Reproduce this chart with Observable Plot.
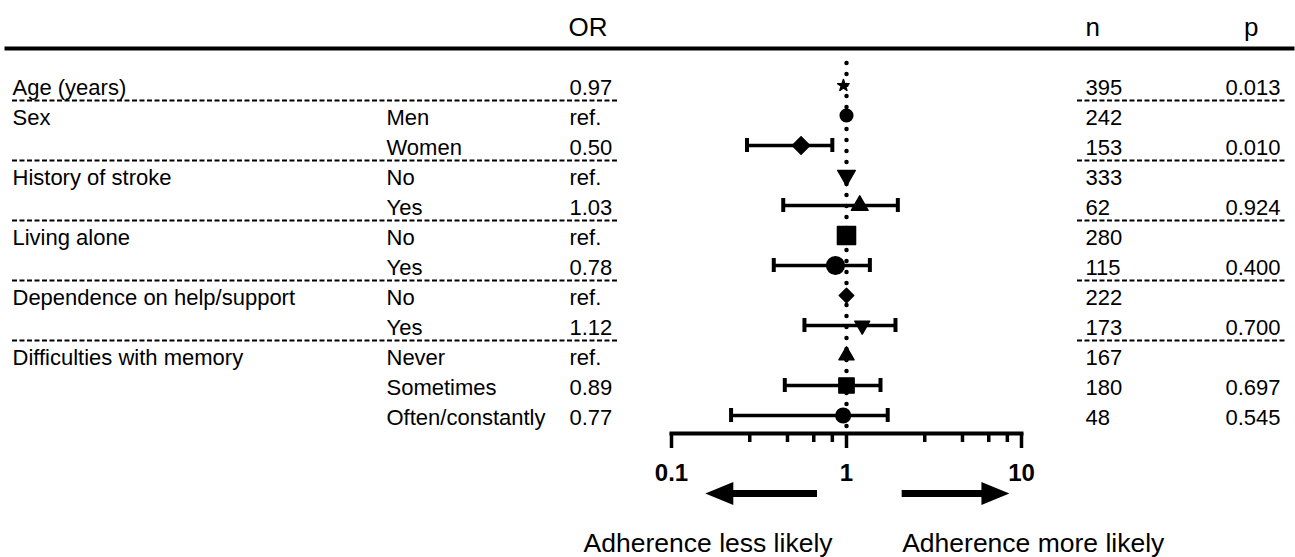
<!DOCTYPE html>
<html>
<head>
<meta charset="utf-8">
<script src="https://cdn.jsdelivr.net/npm/d3@7"></script>
<script src="https://cdn.jsdelivr.net/npm/@observablehq/plot@0.6"></script>
<style>
  html, body { margin: 0; padding: 0; background: #fff; }
  #chart { width: 1295px; height: 557px; }
</style>
</head>
<body>
<div id="chart"></div>
<script>
// ---------- data ----------
const variables = ["Age (years)", "Sex", "", "History of stroke", "", "Living alone", "",
  "Dependence on help/support", "", "Difficulties with memory", "", ""];
const levels = ["", "Men", "Women", "No", "Yes", "No", "Yes", "No", "Yes", "Never", "Sometimes", "Often/constantly"];
const orLabels = ["0.97", "ref.", "0.50", "ref.", "1.03", "ref.", "0.78", "ref.", "1.12", "ref.", "0.89", "0.77"];
const nValues = [395, 242, 153, 333, 62, 280, 115, 222, 173, 167, 180, 48];
const pValues = ["0.013", "", "0.010", "", "0.924", "", "0.400", "", "0.700", "", "0.697", "0.545"];
// plotted point estimates and 95% CI as drawn in the figure
const estimates = [0.96, 1, 0.55, 1, 1.19, 1, 0.865, 1, 1.23, 1, 1.0, 0.957];
const ciLow  = [null, null, 0.27, null, 0.435, null, 0.384, null, 0.575, null, 0.444, 0.219];
const ciHigh = [null, null, 0.83, null, 1.965, null, 1.36, null, 1.905, null, 1.564, 1.72];
const separatorAfter = [0, 2, 4, 6, 8];
const headerLabels = ["OR", "n", "p"];
const majorTicks = [0.1, 1, 10];
const minorTicks = [0.28, 0.46, 0.65, 0.83, 2.8, 4.6, 6.5, 8.3];
const arrows = [{tail: 0.683, tip: 0.156}, {tail: 2.08, tip: 8.53}];
const captionTexts = ["Adherence less likely", "Adherence more likely"];

// ---------- styles ----------
const markerSymbol = ["star", "circle", "diamond2", "triangle", "triangle", "square", "circle",
  "diamond2", "triangle", "triangle", "square", "circle"];
const markerRotate = [0, 0, 0, 180, 0, 0, 0, 0, 180, 0, 0, 0];
const markerRadius = [3.6, 6.3, 7.8, 6.5, 6.2, 10.2, 8.8, 6.5, 5.5, 5.6, 8.6, 7.3];

const rows = levels.map((lvl, i) => ({
  id: i, variable: variables[i], level: lvl, or: orLabels[i], n: String(nValues[i]),
  p: pValues[i], est: estimates[i], lo: ciLow[i], hi: ciHigh[i]
}));
const ciRows = rows.filter(d => d.lo != null);
const lastId = rows[rows.length - 1].id;

// ---------- layout ----------
const W = 1295, H = 557;
const mL = 6, mR = 3, mT = 48, mB = 124;
const frameRight = W - mR;
const xRange = [671, 1021];
const rowStep = 30;
const yRange = [85 - rowStep / 2, 85 + rowStep * (rows.length - 0.5)];

const arrowHead = {
  draw(ctx, size) {
    const r = Math.sqrt(size / Math.PI);
    ctx.moveTo(0, 0);
    ctx.lineTo(-2 * r, -0.82 * r);
    ctx.lineTo(-2 * r, 0.82 * r);
    ctx.closePath();
  }
};

const tableText = (field, opts) => Plot.text(rows, {
  y: "id", text: field, frameAnchor: "left", textAnchor: "start", dy: 2, fontSize: 22, fill: "black", ...opts
});

const chart = Plot.plot({
  width: W, height: H,
  marginTop: mT, marginBottom: mB, marginLeft: mL, marginRight: mR,
  style: {fontFamily: "'Liberation Sans', Arial, Helvetica, sans-serif", fontSize: "22px", color: "black", background: "white", overflow: "visible"},
  x: {type: "log", domain: [0.1, 10], range: xRange},
  y: {type: "band", domain: rows.map(d => d.id), range: yRange, padding: 0, axis: null},
  r: {type: "linear", domain: [0, 30], range: [0, 30]},
  marks: [
    // header line and labels
    Plot.frame({anchor: "top", strokeWidth: 4, stroke: "black"}),
    Plot.text([headerLabels[0]], {text: d => d, frameAnchor: "top-left", textAnchor: "start", lineAnchor: "bottom", dx: 562, dy: -13, fontSize: 26}),
    Plot.text([headerLabels[1]], {text: d => d, frameAnchor: "top-left", textAnchor: "start", lineAnchor: "bottom", dx: 1079, dy: -13, fontSize: 26}),
    Plot.text([headerLabels[2]], {text: d => d, frameAnchor: "top-right", textAnchor: "end", lineAnchor: "bottom", dx: -34, dy: -13, fontSize: 26}),

    // dashed group separators
    Plot.ruleY(separatorAfter, {y: d => d, dy: rowStep / 2, strokeWidth: 2, strokeDasharray: "5,2.5",
      insetLeft: 12 - mL, insetRight: frameRight - 618}),
    Plot.ruleY(separatorAfter, {y: d => d, dy: rowStep / 2, strokeWidth: 2, strokeDasharray: "5,2.5",
      insetLeft: 1077 - mL, insetRight: frameRight - 1287}),

    // table columns
    tableText("variable", {dx: 12 - mL}),
    tableText("level", {dx: 386 - mL}),
    tableText("or", {dx: 569 - mL}),
    tableText("n", {dx: 1085 - mL}),
    tableText("p", {frameAnchor: "right", textAnchor: "end", dx: 1280 - frameRight}),

    // reference line at OR = 1
    Plot.ruleX([1], {stroke: "black", strokeWidth: 4.5, strokeDasharray: "0,11", strokeLinecap: "round", insetTop: 15}),

    // confidence intervals
    Plot.ruleY(ciRows, {x1: "lo", x2: "hi", y: "id", strokeWidth: 3.3, stroke: "black"}),
    Plot.tickX(ciRows, {x: "lo", y: "id", insetTop: 8, insetBottom: 8, strokeWidth: 4, stroke: "black"}),
    Plot.tickX(ciRows, {x: "hi", y: "id", insetTop: 8, insetBottom: 8, strokeWidth: 4, stroke: "black"}),

    // point estimates
    Plot.dot(rows, {x: "est", y: "id",
      symbol: (d, i) => markerSymbol[i], rotate: (d, i) => markerRotate[i], r: (d, i) => markerRadius[i],
      fill: "black", stroke: "black", strokeWidth: 1.5, strokeLinejoin: "round"}),

    // x axis
    Plot.frame({anchor: "bottom", insetLeft: xRange[0] - mL, insetRight: frameRight - xRange[1], strokeWidth: 4, stroke: "black"}),
    Plot.axisX(minorTicks, {tickSize: 9, strokeWidth: 3.5, tickFormat: () => "", label: null}),
    Plot.axisX(majorTicks, {tickSize: 15, tickPadding: 15, strokeWidth: 3.5, fontSize: 24, fontWeight: "bold",
      tickFormat: d => String(d), label: null}),

    // direction arrows
    Plot.ruleY(arrows.filter(a => a.tip < a.tail), {x1: "tip", x2: "tail", y: () => lastId, dy: 78, strokeWidth: 7, insetLeft: 12}),
    Plot.ruleY(arrows.filter(a => a.tip > a.tail), {x1: "tail", x2: "tip", y: () => lastId, dy: 78, strokeWidth: 7, insetRight: 12}),
    Plot.dot(arrows, {x: "tip", y: () => lastId, dy: 78, symbol: arrowHead, r: 14,
      rotate: d => (d.tip < d.tail ? 180 : 0), fill: "black", stroke: "none"}),

    // captions
    Plot.text([captionTexts[0]], {text: d => d, x: () => arrows[0].tail, frameAnchor: "bottom", lineAnchor: "bottom",
      textAnchor: "end", dx: 15, dy: 118, fontSize: 26.5}),
    Plot.text([captionTexts[1]], {text: d => d, x: () => arrows[1].tail, frameAnchor: "bottom", lineAnchor: "bottom",
      textAnchor: "start", dy: 118, fontSize: 26.5})
  ]
});
document.getElementById("chart").appendChild(chart);
</script>
</body>
</html>
